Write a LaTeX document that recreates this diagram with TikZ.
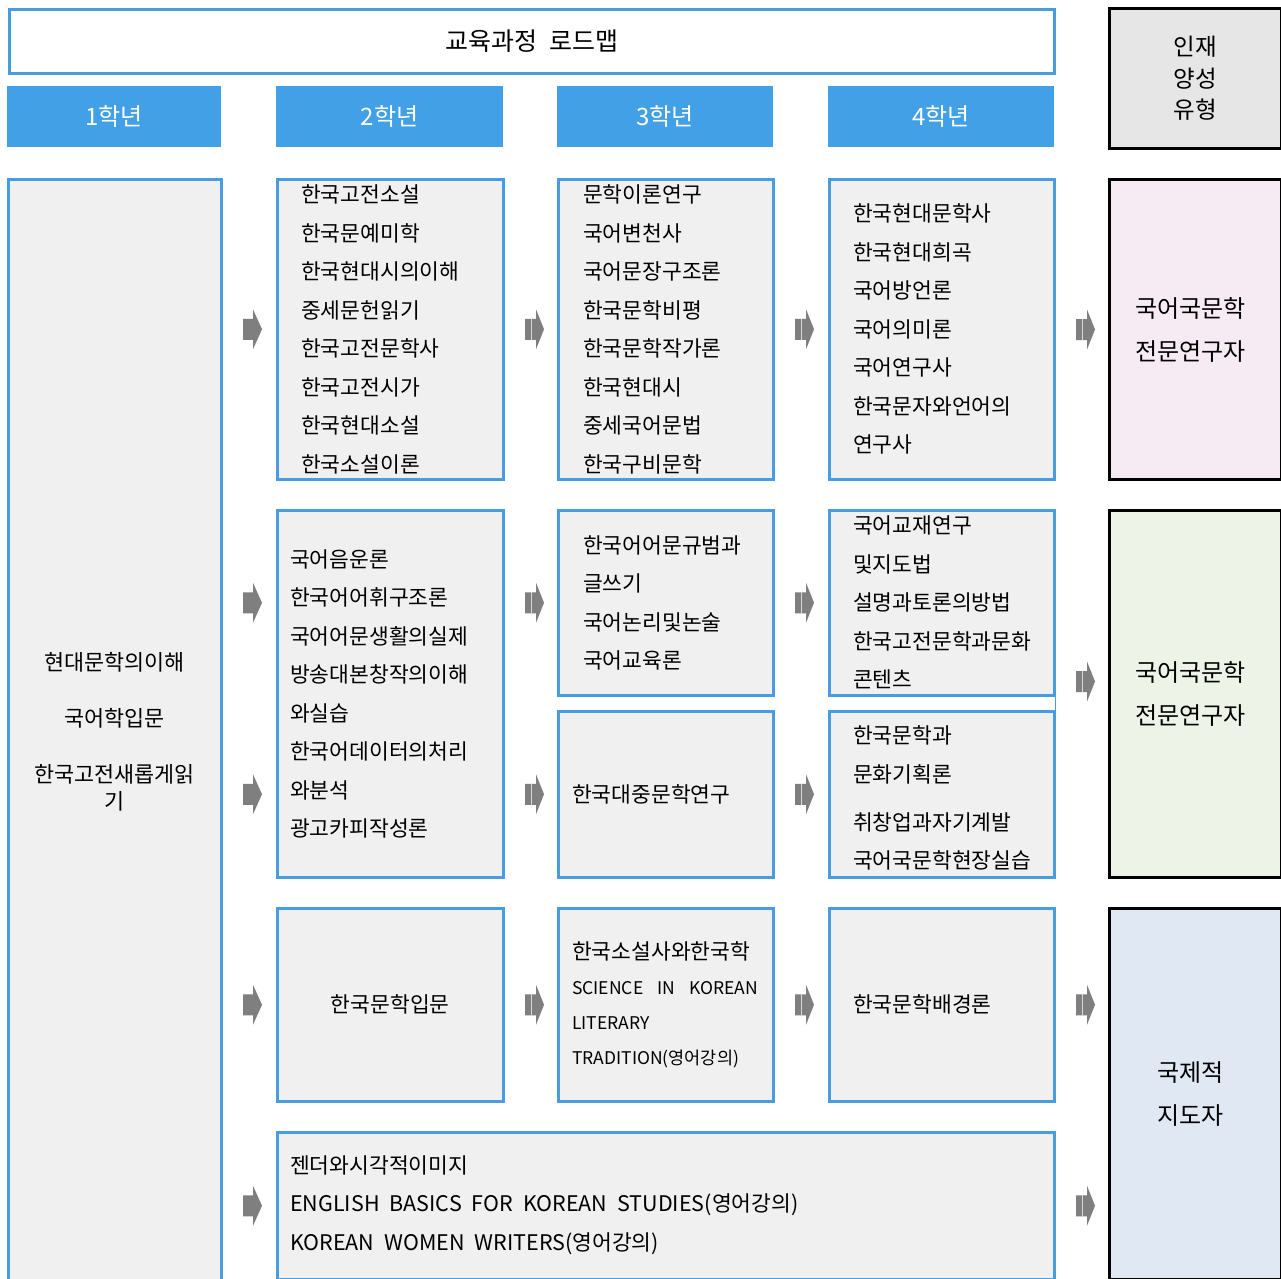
\documentclass[tikz,border=0pt]{standalone}
\usepackage{fontspec}
\newfontfamily\kr{Noto Sans CJK KR}
\usetikzlibrary{calc}
\definecolor{bblue}{RGB}{72,156,226}
\definecolor{hblue}{RGB}{66,160,230}
\definecolor{boxgray}{RGB}{240,240,240}
\definecolor{agray}{RGB}{127,127,127}
\definecolor{hgray}{RGB}{230,230,230}
\definecolor{pinkf}{RGB}{246,234,243}
\definecolor{greenf}{RGB}{238,243,231}
\definecolor{bluef}{RGB}{223,232,243}
\begin{document}
\begin{tikzpicture}[x=1pt,y=-1pt,
  box/.style={draw=bblue, line width=2.5pt, fill=boxgray, anchor=north west, inner sep=0pt},
  yearbox/.style={fill=hblue, anchor=north west, inner sep=0pt, text=white, font=\kr\fontsize{24}{28}\selectfont},
  goal/.style={draw=black, line width=3pt, anchor=north west, inner sep=0pt, align=center, font=\kr\fontsize{24}{43}\selectfont},
  goaltxt/.style={inner sep=0pt, align=center, font=\kr\fontsize{24}{43}\selectfont},
  txt/.style={anchor=west, inner sep=0pt, align=left, font=\kr\fontsize{21.5}{38.5}\selectfont},
  arrA/.pic={\fill[agray] (-9.5,-10.5) rectangle (0.5,10.5) (0.5,-20) -- (9.5,0) -- (0.5,20) -- cycle;},
  arrB/.pic={\fill[agray] (-9.5,-10.5) rectangle (1.5,10.5) (1.5,-20) -- (9.5,0) -- (1.5,20) -- cycle;
             \fill[white!70!agray] (-3.5,-10.5) rectangle (-2.5,10.5);}
]
\useasboundingbox (0,0) rectangle (1281,1278);
\fill[white] (0,0) rectangle (1281,1278);

% header
\node[draw=bblue, line width=3pt, fill=white, anchor=north west, inner sep=0pt,
      minimum width=1045pt, minimum height=64pt, font=\kr\fontsize{25}{30}\selectfont] (hdr) at (8,8) {교육과정\hspace{12pt}로드맵};
\node[yearbox, minimum width=214pt, minimum height=61pt] (y1) at (7,86) {1학년};
\node[yearbox, minimum width=227pt, minimum height=61pt] (y2) at (276,86) {2학년};
\node[yearbox, minimum width=216pt, minimum height=61pt] (y3) at (557,86) {3학년};
\node[yearbox, minimum width=226pt, minimum height=61pt] (y4) at (828,86) {4학년};
\node[goal, fill=hgray, minimum width=172pt, minimum height=140pt, font=\kr\fontsize{23.5}{31.5}\selectfont] (gh) at (1108,7) {인재\\양성\\유형};

% first year column
\node[box, minimum width=213pt, minimum height=1106pt] (c1) at (7,178) {};
\node[anchor=center, inner sep=0pt, align=center, font=\kr\fontsize{21.8}{27}\selectfont] (t1) at (c1.center)
  {현대문학의이해\\[29pt]국어학입문\\[29pt]한국고전새롭게읽\\기};

% row 1
\node[box, minimum width=226pt, minimum height=300pt] (r1c2) at (276,178) {};
\node[box, minimum width=215pt, minimum height=300pt] (r1c3) at (557,178) {};
\node[box, minimum width=225pt, minimum height=300pt] (r1c4) at (828,178) {};
\node[txt] (t1c2) at ($(r1c2.west)+(25,0)$) {한국고전소설\\한국문예미학\\한국현대시의이해\\중세문헌읽기\\한국고전문학사\\한국고전시가\\한국현대소설\\한국소설이론};
\node[txt] (t1c3) at ($(r1c3.west)+(26,0)$) {문학이론연구\\국어변천사\\국어문장구조론\\한국문학비평\\한국문학작가론\\한국현대시\\중세국어문법\\한국구비문학};
\node[txt] (t1c4) at ($(r1c4.west)+(25,0)$) {한국현대문학사\\한국현대희곡\\국어방언론\\국어의미론\\국어연구사\\한국문자와언어의\\연구사};

% row 2
\node[box, minimum width=226pt, minimum height=367pt] (r2c2) at (276,509) {};
\node[box, minimum width=215pt, minimum height=185pt] (r2c3a) at (557,509) {};
\node[box, minimum width=215pt, minimum height=166pt] (r2c3b) at (557,710) {};
\node[box, minimum width=225pt, minimum height=185pt] (r2c4a) at (828,509) {};
\node[box, minimum width=225pt, minimum height=166pt] (r2c4b) at (828,710) {};
\draw[bblue, line width=1.5pt] (r2c4a.south east) -- (r2c4b.north east);
\node[txt] (t2c2) at ($(r2c2.west)+(14,0)$) {국어음운론\\한국어어휘구조론\\국어어문생활의실제\\방송대본창작의이해\\와실습\\한국어데이터의처리\\와분석\\광고카피작성론};
\node[txt] (t2c3a) at ($(r2c3a.west)+(26,0)$) {한국어어문규범과\\글쓰기\\국어논리및논술\\국어교육론};
\node[txt] (t2c3b) at ($(r2c3b.west)+(15,0)$) {한국대중문학연구};
\node[txt] (t2c4a) at ($(r2c4a.west)+(25,0)$) {국어교재연구\\및지도법\\설명과토론의방법\\한국고전문학과문화\\콘텐츠};
\node[txt] (t2c4b) at ($(r2c4b.west)+(25,4)$) {한국문학과\\문화기획론\\[9.5pt]취창업과자기계발\\국어국문학현장실습};

% row 3
\node[box, minimum width=226pt, minimum height=193pt, font=\kr\fontsize{21.5}{26}\selectfont] (r3c2) at (276,907) {한국문학입문};
\node[box, minimum width=215pt, minimum height=193pt] (r3c3) at (557,907) {};
\node[box, minimum width=225pt, minimum height=193pt] (r3c4) at (828,907) {};
\node[txt, font=\kr\fontsize{17.5}{35}\selectfont] (t3c3) at ($(r3c3.west)+(15,0)$)
  {{\fontsize{21.5}{26}\selectfont 한국소설사와한국학}\\\makebox[186pt][s]{SCIENCE\hfill IN\hfill KOREAN}\\LITERARY\\TRADITION(영어강의)};
\node[txt] (t3c4) at ($(r3c4.west)+(25,0)$) {한국문학배경론};

% row 4
\node[box, minimum width=777pt, minimum height=147pt] (r4) at (276,1131) {};
\node[txt, font=\kr\fontsize{21.5}{38.5}\selectfont] (t4) at ($(r4.west)+(14,-1)$)
  {젠더와시각적이미지\\ENGLISH\hspace{10pt}BASICS\hspace{10pt}FOR\hspace{10pt}KOREAN\hspace{10pt}STUDIES(영어강의)\\KOREAN\hspace{10pt}WOMEN\hspace{10pt}WRITERS(영어강의)};

% goals
\node[goal, fill=pinkf, minimum width=172pt, minimum height=300pt] (g1) at (1108,178) {};
\node[goal, fill=greenf, minimum width=172pt, minimum height=367pt] (g2) at (1108,509) {};
\node[goal, fill=bluef, minimum width=172pt, minimum height=371pt] (g3) at (1108,907) {};
\node[goaltxt] (tg1) at ($(g1.center)+(-5,0)$) {국어국문학\\전문연구자};
\node[goaltxt] (tg2) at ($(g2.center)+(-5,0)$) {국어국문학\\전문연구자};
\node[goaltxt] (tg3) at ($(g3.center)+(-5,0)$) {국제적\\지도자};

% arrows col1 -> col2
\pic at ($(r1c2.west)+(-23.5,0)$) {arrA};
\pic at ($(r2c2.west |- r2c3a.west)+(-23.5,0)$) {arrA};
\pic at ($(r2c2.west |- r2c3b.west)+(-23.5,0)$) {arrA};
\pic at ($(r3c2.west)+(-23.5,0)$) {arrA};
\pic at ($(r4.west)+(-23.5,0)$) {arrA};
% col2 -> col3
\pic at ($(r1c3.west)+(-22.5,0)$) {arrB};
\pic at ($(r2c3a.west)+(-22.5,0)$) {arrB};
\pic at ($(r2c3b.west)+(-22.5,0)$) {arrB};
\pic at ($(r3c3.west)+(-22.5,0)$) {arrB};
% col3 -> col4
\pic at ($(r1c4.west)+(-23.5,0)$) {arrB};
\pic at ($(r2c4a.west)+(-23.5,0)$) {arrB};
\pic at ($(r2c4b.west)+(-23.5,0)$) {arrB};
\pic at ($(r3c4.west)+(-23.5,0)$) {arrB};
% col4 -> goals
\pic at ($(g1.west)+(-22.5,0)$) {arrB};
\pic at ($(g2.west)+(-22.5,-12.5)$) {arrB};
\pic at ($(g3.west |- r3c4.west)+(-22.5,0)$) {arrB};
\pic at ($(g3.west |- r4.west)+(-22.5,0)$) {arrB};
\end{tikzpicture}
\end{document}
